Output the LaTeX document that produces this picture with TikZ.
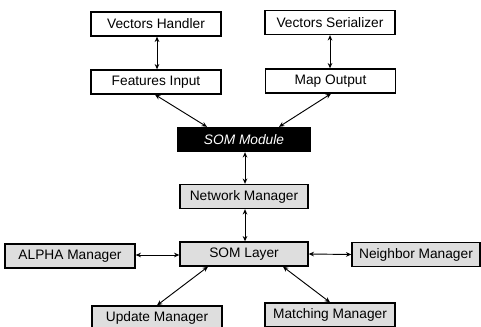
\documentclass[tikz,border=0pt]{standalone}
\usepackage{fontspec}
\setmainfont{Liberation Sans}
\usetikzlibrary{calc,arrows.meta}
\begin{document}
\begin{tikzpicture}[x=0.75pt,y=-0.75pt,
  box/.style={draw=black,line width=1pt,minimum width=97.5pt,minimum height=18pt,
    inner sep=0pt,font=\fontsize{10.3}{12}\selectfont},
  plainbox/.style={box,fill=white},
  graybox/.style={box,fill=black!13},
  darkbox/.style={box,fill=black,text=white,font=\fontsize{10.3}{12}\selectfont\itshape},
  link/.style={line width=0.7pt,{Stealth[length=4pt,width=3.5pt]}-{Stealth[length=4pt,width=3.5pt]}}]
\useasboundingbox (0,0) rectangle (481,327);
\clip (0,0) rectangle (481,327);
% upper layer: input/output handling
\node[plainbox] (vh) at (156,24) {Vectors Handler};
\node[plainbox] (vs) at (330,22.5) {Vectors Serializer};
\node[plainbox] (fi) at (156,82) {Features Input};
\node[plainbox] (mo) at (330.5,81) {Map Output};
\node[darkbox,minimum width=99pt] (som) at (244,139.5) {SOM Module};
% lower layer: network internals
\node[graybox,minimum width=96pt] (nm) at (244,196.5) {Network Manager};
\node[graybox,minimum width=96pt] (sl) at (244,254) {SOM Layer};
\node[graybox] (am) at (70,256) {ALPHA Manager};
\node[graybox,minimum width=96pt] (nb) at (416,254.5) {Neighbor Manager};
\node[graybox] (um) at (157,318) {Update Manager};
\node[graybox] (mm) at (330,315) {Matching Manager};
% connectors
\draw[link] (vh.south -| 157,0) -- (fi.north -| 157,0);
\draw[link] (vs.south -| 330,0) -- (mo.north -| 330,0);
\draw[link] ($(fi.south)+(-1,0)$) -- ($(som.north)+(-37,0)$);
\draw[link] ($(mo.south)+(0.5,0)$) -- ($(som.north)+(35,0)$);
\draw[link] ($(som.south)+(1,0)$) -- ($(nm.north)+(1,0)$);
\draw[link] ($(nm.south)+(1,0)$) -- ($(sl.north)+(1,0)$);
\draw[link] (am.east |- 0,255) -- (sl.west |- 0,255);
\draw[link] (sl.east) -- (nb.west);
\draw[link] ($(sl.south)+(-36,0)$) -- ($(um.north)+(0,0)$);
\draw[link] ($(sl.south)+(39,0)$) -- ($(mm.north)+(0,0)$);
\end{tikzpicture}
\end{document}
